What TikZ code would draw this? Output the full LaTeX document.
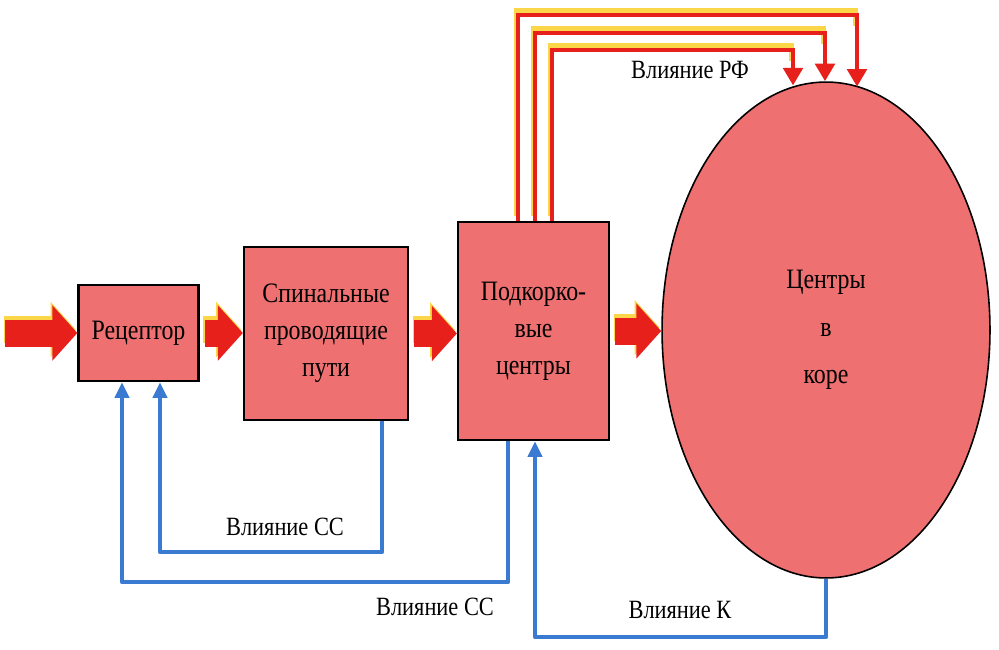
\documentclass[tikz,border=0pt]{standalone}
\usepackage{fontspec}
\setmainfont[FakeStretch=0.85]{Liberation Serif}
\usetikzlibrary{arrows.meta,shapes.geometric}

\definecolor{boxred}{RGB}{238,112,112}
\definecolor{arrred}{RGB}{232,32,28}
\definecolor{glowyel}{RGB}{250,214,72}
\definecolor{fbblue}{RGB}{58,122,208}

\tikzset{
  box/.style={draw=black, line width=1.3pt, fill=boxred, align=center,
    inner sep=0pt, font=\fontsize{16}{21}\selectfont},
  cortex/.style={ellipse, draw=black, line width=0.9pt, fill=boxred, align=center,
    inner sep=0pt, minimum width=6.56cm, minimum height=9.92cm,
    font=\fontsize{16}{27}\selectfont},
  fat/.style={draw=arrred, line width=0.54cm,
    -{Triangle[length=0.5cm, width=1.08cm]}},
  fatglow/.style={fat, draw=glowyel, transform canvas={xshift=-1pt, yshift=2pt}},
  rf/.style={draw=arrred, line width=2.4pt,
    -{Triangle[length=10pt, width=11pt]}},
  rfglow/.style={draw=glowyel, line width=2.6pt, transform canvas={xshift=-1pt, yshift=2.5pt}},
  fb/.style={draw=fbblue, line width=2.6pt, line join=round,
    -{Triangle[length=9pt, width=8pt]}},
  lbl/.style={font=\fontsize{15}{18}\selectfont}
}

\begin{document}
\begin{tikzpicture}[x=0.02cm, y=-0.02cm]
\useasboundingbox (0,0) rectangle (999,649);

% blocks
\node[box, minimum width=2.4cm, minimum height=1.92cm] (rec) at (138.5,333) {Рецептор};
\node[box, minimum width=3.28cm, minimum height=3.46cm] (sp) at (326,333.5) {Спинальные\\проводящие\\пути};
\node[box, minimum width=3.02cm, minimum height=4.36cm] (sub) at (533.5,331) {Подкорко-\\вые\\центры};
\node[cortex] (ctx) at (826,330) {Центры\\в\\коре};

% main pathway
\coordinate (src) at (0,333);
\foreach \a/\b in {src/rec.west, rec.east/sp.west, sp.east/sub.west, sub.east/ctx.west} {
  \draw[fatglow] ([xshift=3pt]\a) -- (\a -| \b);
  \draw[fat] ([xshift=3pt]\a) -- (\a -| \b);
}

% reticular formation
\coordinate (rf1) at (857,15);
\coordinate (rf2) at (825,33);
\coordinate (rf3) at (793,50);
\foreach \n/\dx/\ang in {1/-0.31cm/82.7, 2/0.03cm/90, 3/0.37cm/97.7} {
  \draw[rfglow] ([xshift=\dx]sub.north) |- (rf\n) -- ++(0,15);
  \draw[rf] ([xshift=\dx]sub.north) |- (rf\n) -- (rf\n |- ctx.\ang);
}
\node[lbl] (lrf) at (690,70) {Влияние РФ};

% feedback
\coordinate (cc1) at (160,552);
\coordinate (cc2) at (122,582);
\coordinate (kk) at (535,637);
\draw[fb] ([xshift=1.12cm]sp.south) |- (cc1) -- (cc1 |- rec.south);
\draw[fb] ([xshift=-0.51cm]sub.south) |- (cc2) -- (cc2 |- rec.south);
\draw[fb] (ctx.south) |- (kk) -- (kk |- sub.south);
\node[lbl] (lcc1) at (285,527) {Влияние СС};
\node[lbl] (lcc2) at (435,607) {Влияние СС};
\node[lbl] (lk) at (680,610) {Влияние К};
\end{tikzpicture}
\end{document}
